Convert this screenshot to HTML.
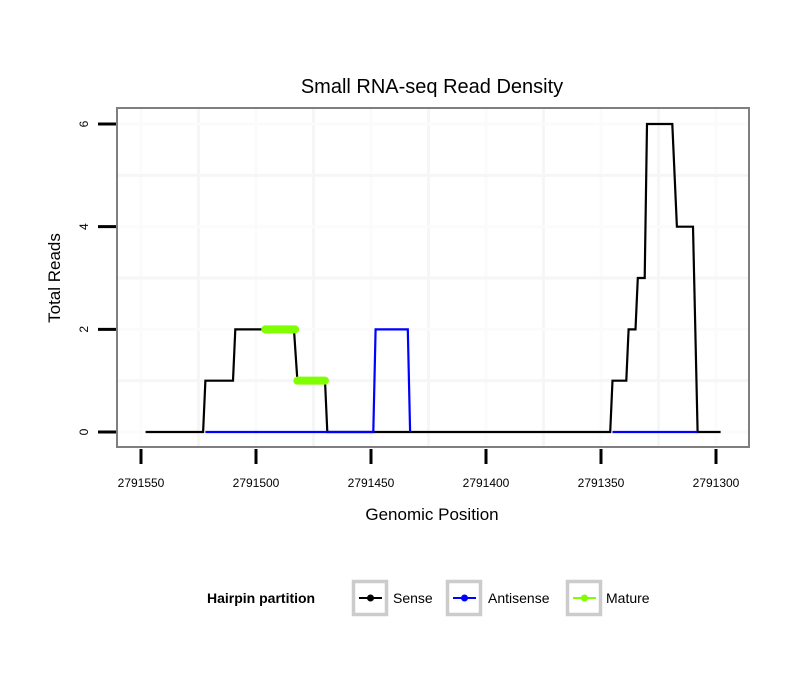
<!DOCTYPE html>
<html><head><meta charset="utf-8"><style>
body{margin:0;background:#fff}
svg text{font-family:"Liberation Sans",sans-serif}
</style></head><body>
<svg width="810" height="690" id="c">
<text x="432" y="93" text-anchor="middle" font-size="20">Small RNA-seq Read Density</text>
<g id="grid"></g>
<g id="series"></g>
<rect x="117" y="108" width="632" height="339" fill="none" stroke="#7f7f7f" stroke-width="2"/>
<g id="axes"></g>
<text x="432" y="520" text-anchor="middle" font-size="17">Genomic Position</text>
<text transform="translate(60,278) rotate(-90)" text-anchor="middle" font-size="17">Total Reads</text>
<g>
<text x="207" y="603" font-size="14" font-weight="bold">Hairpin partition</text>
<g id="legend"></g>
</g>
</svg>
<script>
const xTicks=[2791550,2791500,2791450,2791400,2791350,2791300];
const yTicks=[0,2,4,6];
const sensePos=[2791548,2791523,2791522,2791510,2791509,2791483.5,2791482,2791470,2791469,2791346,2791345,2791339,2791338,2791335,2791334,2791331,2791330,2791319,2791317,2791310,2791308,2791298];
const senseVal=[0,0,1,1,2,2,1,1,0,0,1,1,2,2,3,3,6,6,4,4,0,0];
const antiPos=[2791522,2791449,2791448,2791434,2791433,null,2791345,2791308];
const antiVal=[0,0,2,2,0,null,0,0];
const maturePos=[[2791496,2791483],[2791482,2791470]];
const matureVal=[2,1];
const legendLabels=["Sense","Antisense","Mature"];
const legendColors=["#000","#0000ff","#7fff00"];

const NS="http://www.w3.org/2000/svg";
const X=v=>141+(2791550-v)*2.3;
const Y=v=>432-v*51.33;
function mk(tag,attrs,parent){const e=document.createElementNS(NS,tag);for(const k in attrs)e.setAttribute(k,attrs[k]);parent.appendChild(e);return e;}
const grid=document.getElementById('grid'),axes=document.getElementById('axes'),series=document.getElementById('series');
for(let v=2791575;v>=2791275;v-=25){const x=X(v);if(x<118||x>748)continue;
 const l=mk('line',{x1:x,x2:x,y1:109,y2:446,stroke:v%50===0?'#fbfbfb':'#f6f6f6','stroke-width':3},grid);
 }
for(let v=-1;v<=7;v++){const y=Y(v);if(y<109||y>446)continue;
 const l=mk('line',{x1:118,x2:748,y1:y,y2:y,stroke:v%2===0?'#fbfbfb':'#f6f6f6','stroke-width':3},grid);
 }
xTicks.forEach(t=>{const x=X(t);
 const l=mk('line',{x1:x,x2:x,y1:449,y2:464,stroke:'#000','stroke-width':3},axes);
 
 const tx=mk('text',{x:x,y:487,'text-anchor':'middle','font-size':12},axes);tx.textContent=t;
 });
yTicks.forEach(t=>{const y=Y(t);
 const l=mk('line',{x1:98,x2:116,y1:y,y2:y,stroke:'#000','stroke-width':3},axes);
 
 const tx=mk('text',{transform:`translate(88,${y}) rotate(-90)`,'text-anchor':'middle','font-size':12},axes);tx.textContent=t;
 });
function path(pos,val){let d='',pen=false;pos.forEach((p,i)=>{if(p===null){pen=false;return;}d+=(pen?'L':'M')+X(p)+' '+Y(val[i]);pen=true;});return d;}
const sp=mk('path',{d:path(sensePos,senseVal),fill:'none',stroke:'#000','stroke-width':2.2},series);

const ap=mk('path',{d:path(antiPos,antiVal),fill:'none',stroke:'#0000ff','stroke-width':2.2},series);

maturePos.forEach((p,i)=>{const l=mk('line',{x1:X(p[0]),x2:X(p[1]),y1:Y(matureVal[i]),y2:Y(matureVal[i]),stroke:'#7fff00','stroke-width':8,'stroke-linecap':'round'},series);
 });
const lg=document.getElementById('legend');const lx=[352,446,566];const ltx=[393,488,606];
legendLabels.forEach((s,i)=>{
 const r=mk('rect',{x:lx[i]+1.5,y:581.5,width:33,height:33,fill:'#fff',stroke:'#cccccc','stroke-width':3.5},lg);
 
 mk('line',{x1:lx[i]+7,x2:lx[i]+30,y1:598,y2:598,stroke:legendColors[i],'stroke-width':2},lg);
 mk('circle',{cx:lx[i]+18.5,cy:598,r:3.5,fill:legendColors[i]},lg);
 const t=mk('text',{x:ltx[i],y:603,'font-size':14},lg);t.textContent=s;
 });
</script>
</body></html>
